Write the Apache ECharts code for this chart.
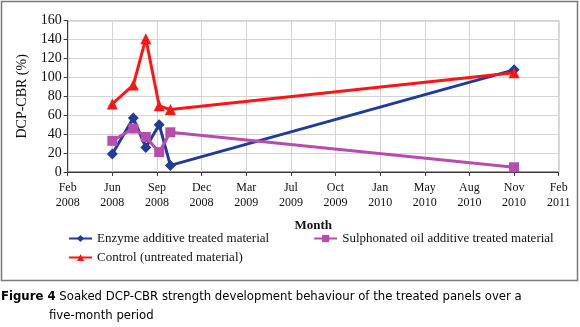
<!DOCTYPE html>
<html>
<head>
<meta charset="utf-8">
<script src="https://cdn.jsdelivr.net/npm/echarts@6/dist/echarts.min.js"></script>
<style>
html,body{margin:0;padding:0;background:#fff;}
#chart{width:580px;height:327px;}
</style>
</head>
<body>
<div id="chart"></div>
<script>
// ---- data ----
const sampleDates = ['2008-06-01', '2008-07-18', '2008-08-15', '2008-09-14', '2008-10-09', '2010-11-18'];
const enzymeValues = [19, 57, 26, 50, 7, 108];
const sulphonatedValues = [33, 46, 37, 21, 42, 5];
const controlValues = [72, 92, 141, 70, 66, 105];
const seriesNames = ['Enzyme additive treated material', 'Sulphonated oil additive treated material', 'Control (untreated material)'];
const xAxisStart = '2008-02-22';
const xTickStepDays = 100;
const xTickCount = 12;
const yTicks = [0, 20, 40, 60, 80, 100, 120, 140, 160];
const monthNames = ['Jan','Feb','Mar','Apr','May','Jun','Jul','Aug','Sep','Oct','Nov','Dec'];

const EPOCH = Date.UTC(1899, 11, 30);
function serial(s) {
  const p = s.split('-').map(Number);
  return Math.round((Date.UTC(p[0], p[1] - 1, p[2]) - EPOCH) / 86400000);
}
function fmtDate(v) {
  const t = new Date(EPOCH + v * 86400000);
  return monthNames[t.getUTCMonth()] + '\n' + t.getUTCFullYear();
}
const xs = sampleDates.map(serial);
const pair = vals => xs.map((x, i) => [x, vals[i]]);

const serif = "'Liberation Serif', 'DejaVu Serif', serif";
const capFont = "'Liberation Sans Narrow', 'DejaVu Sans Condensed', 'Liberation Sans', sans-serif";

const chart = echarts.init(document.getElementById('chart'), null, {renderer: 'canvas'});
const lineSeries = (name, vals, color, symbol, size) => ({
  name: name,
  type: 'line',
  data: pair(vals),
  symbol: symbol,
  symbolSize: size,
  showAllSymbol: true,
  lineStyle: {color: color, width: 3},
  itemStyle: {color: color},
  emphasis: {disabled: true},
  animation: false
});

chart.setOption({
  animation: false,
  backgroundColor: '#fff',
  grid: {
    left: 67.7, right: 21.3, top: 20.7, bottom: 155,
    show: true, borderColor: '#3a3a3a', borderWidth: 1, backgroundColor: 'transparent'
  },
  xAxis: {
    type: 'value',
    min: serial(xAxisStart),
    max: serial(xAxisStart) + (xTickCount - 1) * xTickStepDays,
    interval: xTickStepDays,
    name: 'Month',
    nameLocation: 'middle',
    nameGap: 47,
    nameTextStyle: {fontFamily: serif, fontSize: 13, fontWeight: 'bold', color: '#111'},
    axisLine: {lineStyle: {color: '#3a3a3a', width: 1}},
    axisTick: {show: true, inside: false, length: 4, lineStyle: {color: '#3a3a3a'}},
    axisLabel: {
      formatter: fmtDate, fontFamily: serif, fontSize: 12, color: '#111',
      lineHeight: 15, margin: 8, showMinLabel: true, showMaxLabel: true
    },
    splitLine: {show: true, lineStyle: {color: '#d4d4d4', width: 1}}
  },
  yAxis: {
    type: 'value',
    min: yTicks[0],
    max: yTicks[yTicks.length - 1],
    interval: yTicks[1] - yTicks[0],
    name: 'DCP-CBR (%)',
    nameLocation: 'middle',
    nameRotate: 90,
    nameGap: 29,
    nameTextStyle: {fontFamily: serif, fontSize: 14, color: '#111'},
    axisLine: {show: true, lineStyle: {color: '#3a3a3a', width: 1}},
    axisTick: {show: true, inside: false, length: 4, lineStyle: {color: '#3a3a3a'}},
    axisLabel: {fontFamily: serif, fontSize: 14, color: '#111', margin: 6},
    splitLine: {show: true, lineStyle: {color: '#d4d4d4', width: 1}}
  },
  legend: [
    {
      data: [seriesNames[0], seriesNames[1]],
      left: 68, top: 232, padding: 0, itemWidth: 23, itemHeight: 9, itemGap: 44,
      textStyle: {fontFamily: serif, fontSize: 13, color: '#111'},
      selectedMode: false
    },
    {
      data: [seriesNames[2]],
      left: 68, top: 251, padding: 0, itemWidth: 23, itemHeight: 9,
      textStyle: {fontFamily: serif, fontSize: 13, color: '#111'},
      selectedMode: false
    }
  ],
  title: [
    {
      text: '{b|Figure 4} Soaked DCP-CBR strength development behaviour of the treated panels over a',
      left: 1, top: 290, padding: 0,
      textStyle: {
        fontFamily: capFont, fontSize: 13, fontWeight: 'normal', color: '#000',
        rich: {b: {fontFamily: capFont, fontSize: 13, fontWeight: 'bold', color: '#000'}}
      }
    },
    {
      text: 'five-month period',
      left: 49, top: 309, padding: 0,
      textStyle: {fontFamily: capFont, fontSize: 13, fontWeight: 'normal', color: '#000'}
    }
  ],
  graphic: [
    {
      type: 'rect', silent: true, z: -1,
      shape: {x: 1.5, y: 1.5, width: 576, height: 279},
      style: {fill: 'none', stroke: '#7a7a7a', lineWidth: 1.5}
    }
  ],
  series: [
    lineSeries(seriesNames[0], enzymeValues, '#1f3c98', 'diamond', 11),
    lineSeries(seriesNames[1], sulphonatedValues, '#b84cae', 'rect', 10),
    lineSeries(seriesNames[2], controlValues, '#ff1414', 'triangle', 11)
  ]
});
</script>
</body>
</html>
